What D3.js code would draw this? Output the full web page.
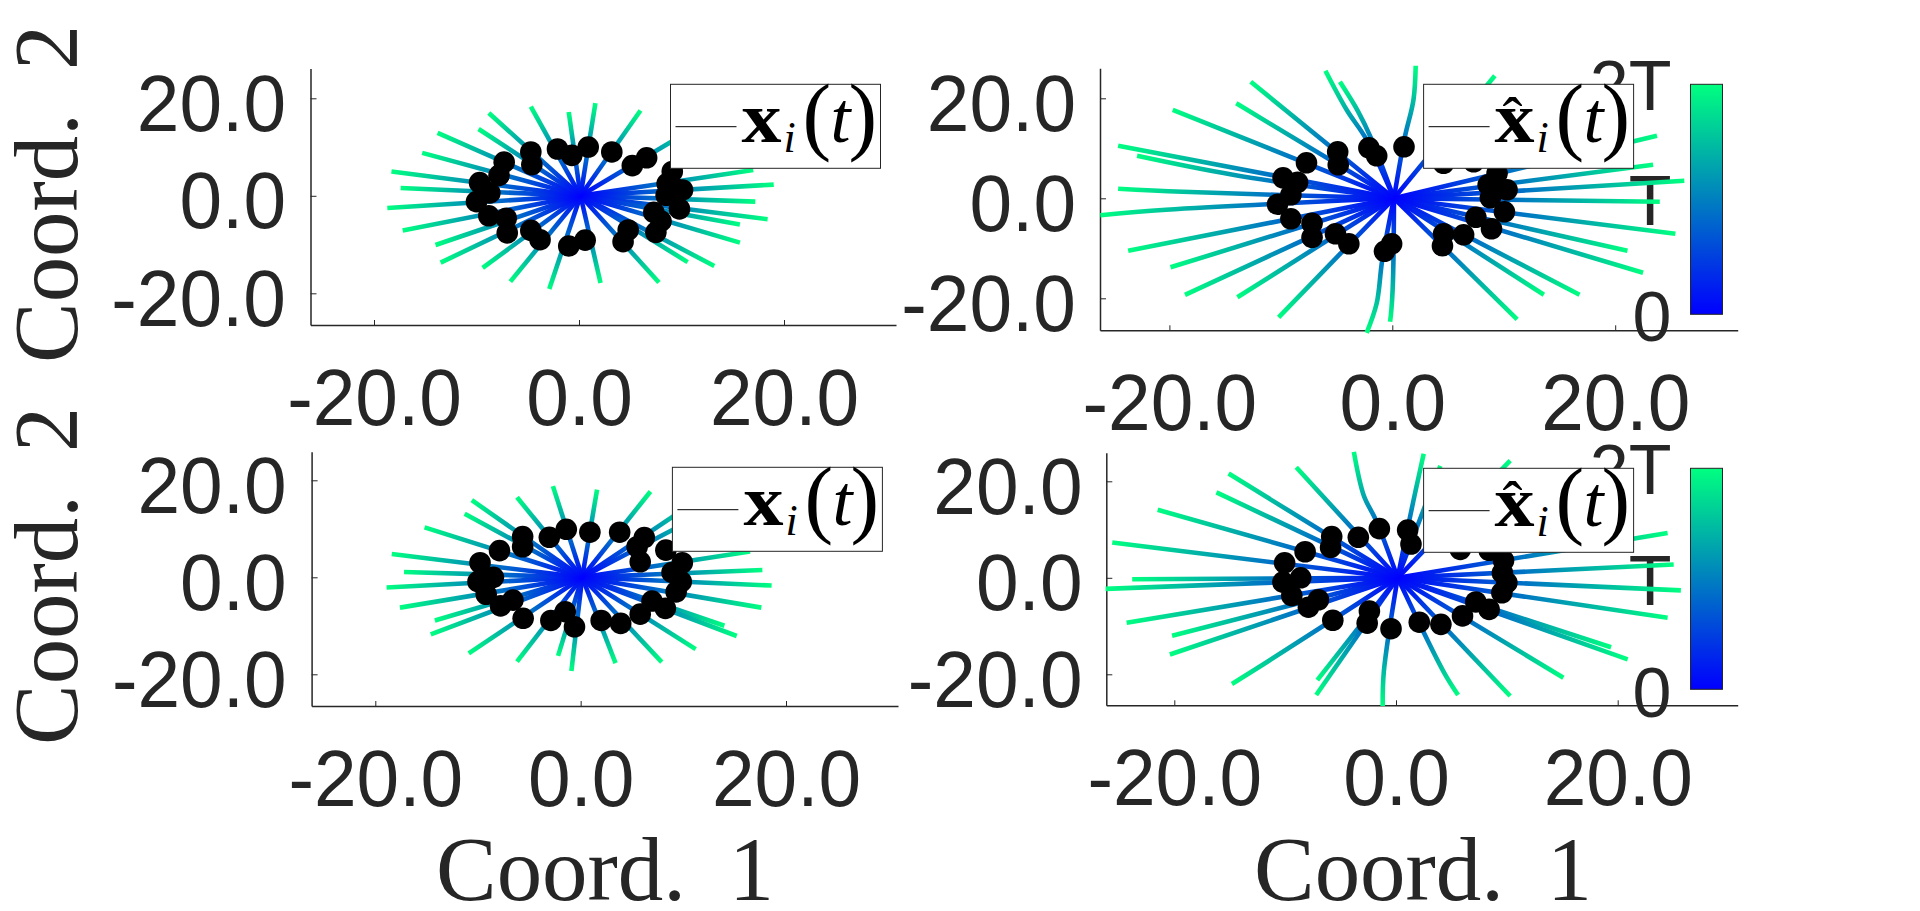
<!DOCTYPE html>
<html>
<head>
<meta charset="utf-8">
<script src="https://cdn.jsdelivr.net/npm/d3@7"></script>
<style>
  html, body { margin: 0; background: #fff; }
  svg { display: block; }
  .tick-label { font-family: "Liberation Sans", sans-serif; font-size: 79px; fill: #262626; }
  .cbar-label { font-family: "Liberation Sans", sans-serif; font-size: 70px; fill: #262626; text-anchor: end; }
  .axis-title { font-family: "Liberation Serif", serif; font-size: 90px; fill: #262626; }
  .legend-text { font-family: "Liberation Serif", serif; fill: #000; }
</style>
</head>
<body>
<div id="chart"></div>
<script>
const tickValues = [-20, 0, 20];
const tickLabels = ["-20.0", "0.0", "20.0"];
const colorbarLabels = ["0", "T", "2T"];
const titleWord = "Coord.";
const xTitleNumber = "1";
const yTitleNumber = "2";

// trajectories start near the origin, then bends (if any) and the end point
const rayOrigin = [0.15, 0];

const trueTopLines = [
  [[1.6, 19.0]], [[6.0, 17.5]], [[12.2, 15.1]], [[17.0, 5.3]], [[19.0, 2.3]], [[17.2, -1.2]],
  [[18.4, -4.8]], [[15.7, -5.9]], [[15.7, -9.6]], [[13.2, -14.4]], [[10.6, -13.6]], [[7.8, -17.8]],
  [[2.1, -17.9]], [[-2.9, -19.1]], [[-6.7, -17.6]], [[-9.4, -14.8]], [[-13.5, -13.7]], [[-14.0, -10.1]],
  [[-17.2, -7.1]], [[-18.7, -2.5]], [[-17.4, 1.6]], [[-18.3, 5.0]], [[-15.3, 8.8]], [[-13.8, 12.9]],
  [[-9.8, 13.7]], [[-8.8, 17.0]], [[-4.7, 18.3]], [[-1.0, 17.2]],
];
const trueTopDots = [
  [-2.1, 9.6], [-0.7, 8.3], [0.9, 10.0], [3.2, 9.0], [5.2, 6.2], [6.6, 7.8], [9.1, 5.0], [8.6, 2.5],
  [9.2, 1.8], [10.1, 1.2], [8.5, 0.1], [9.8, -2.7], [7.3, -3.4], [8.0, -5.2], [7.5, -7.5], [4.8, -7.0],
  [4.3, -9.4], [0.6, -9.1], [-1.0, -10.3], [-3.8, -9.0], [-4.7, -7.1], [-7.0, -7.6], [-7.1, -4.6],
  [-8.8, -4.1], [-10.0, -1.2], [-8.7, 0.6], [-9.7, 2.7], [-7.8, 4.2], [-7.3, 6.9], [-4.6, 6.4], [-4.7, 9.0],
];

const hatTopLines = [
  [[1.1, 12.0], [1.9, 19.7], [2.1, 26.5]], [[9.2, 24.5]], [[23.75, 12.5]], [[23.4, 6.7]], [[26.2, 3.5]],
  [[24.0, -0.7]], [[25.4, -7.1]], [[21.1, -10.5]], [[22.5, -14.9]], [[16.8, -19.3]], [[13.6, -19.3]],
  [[11.2, -24.2]], [[0.03, -18.3], [-0.2, -24.7]], [[-0.9, -12.3], [-1.4, -21.0], [-2.3, -26.9]],
  [[-10.2, -23.8]], [[-13.9, -19.8]], [[-18.6, -19.3]], [[-19.9, -13.8]], [[-23.7, -10.5]],
  [[-20.3, -2.3], [-26.2, -3.4]], [[-18.8, 1.3], [-24.6, 1.9]], [[-14.3, 4.7], [-22.9, 8.5]],
  [[-24.6, 10.5]], [[-19.7, 17.7]], [[-14.0, 19.0]], [[-12.7, 23.3]],
  [[-2.3, 11.7], [-4.1, 17.7], [-6.0, 25.5]], [[-1.9, 12.0], [-3.05, 17.3], [-4.7, 23.3]],
];
const hatTopDots = [
  [1.05, 10.3], [-2.1, 10.1], [-1.4, 8.5], [-4.9, 9.3], [-4.85, 6.7], [-7.7, 7.1], [-9.8, 4.1], [-8.5, 3.2],
  [-9.1, 0.7], [-10.3, -1.2], [-9.1, -4.1], [-7.2, -5.0], [-7.2, -7.8], [-5.1, -7.1], [-3.9, -9.1],
  [-0.06, -9.1], [-0.7, -10.6], [4.6, -7.1], [4.5, -9.5], [6.4, -7.3], [7.5, -3.8], [8.9, -6.1],
  [10.06, -2.7], [8.8, 0.1], [10.3, 1.7], [8.6, 2.7], [9.4, 5.0], [4.6, 7.0], [7.3, 7.3],
];

const trueBottomLines = [
  [[1.6, 18.1]], [[6.8, 17.7]], [[12.0, 16.8]], [[13.3, 14.6]], [[16.5, 5.3]], [[17.7, 1.5]], [[18.6, -1.7]],
  [[17.6, -6.25]], [[14.0, -10.0]], [[15.2, -12.1]], [[11.2, -14.8]], [[7.9, -17.5]], [[3.4, -17.7]],
  [[-0.9, -19.3]], [[-2.2, -16.2]], [[-6.2, -17.4]], [[-10.9, -15.7]], [[-14.6, -11.75]], [[-14.2, -8.9]],
  [[-17.6, -6.25]], [[-18.9, -2.1]], [[-17.2, 1.1]], [[-18.4, 4.8]], [[-15.2, 10.3]], [[-11.3, 13.1]],
  [[-10.6, 15.9]], [[-6.2, 16.5]], [[-2.7, 18.8]],
];
const trueBottomDots = [
  [-1.4, 9.9], [-3.05, 8.25], [0.9, 9.3], [3.8, 9.3], [6.2, 8.2], [5.5, 6.3], [5.8, 3.2], [8.3, 5.6],
  [9.9, 3.0], [8.9, 1.0], [9.8, -0.9], [9.3, -3.0], [8.25, -6.4], [6.95, -4.9], [5.8, -7.6], [3.9, -9.5],
  [2.0, -8.9], [-0.6, -10.2], [-1.5, -7.1], [-2.9, -8.9], [-5.6, -8.45], [-6.6, -4.7], [-7.8, -5.9],
  [-9.2, -3.5], [-10.0, -0.9], [-8.5, 0], [-9.8, 3.0], [-7.9, 5.5], [-5.65, 6.3], [-5.65, 8.4],
];

const hatBottomLines = [
  [[1.2, 11.9], [1.8, 18.4], [2.5, 25.7]], [[4.0, 23.2]], [[10.3, 24.3]], [[24.5, 9.3]], [[25.05, 2.75]],
  [[25.7, -2.6]], [[24.5, -8.3]], [[19.4, -14.4]], [[20.9, -16.9]], [[15.1, -20.7]], [[10.3, -24.5]],
  [[4.3, -19.5], [5.6, -24.3]], [[-1.1, -19.5], [-1.2, -26.55]], [[-7.1, -21.2]], [[-7.2, -24.3]],
  [[-11.6, -17.4], [-14.8, -22.0]], [[-20.4, -15.9]], [[-20.2, -12.0]], [[-24.3, -9.3]], [[-26.2, -2.3]],
  [[-23.8, -0.3]], [[-25.6, 7.3]], [[-21.5, 14.1]], [[-16.2, 17.7]], [[-15.1, 21.6]], [[-9.0, 22.9]],
  [[-1.8, 11.9], [-2.9, 17.0], [-3.8, 26.1]],
];
const hatBottomDots = [
  [1.05, 9.9], [1.35, 7.0], [-1.5, 10.2], [-3.4, 8.4], [-5.8, 8.55], [-5.9, 6.3], [-8.2, 5.4], [-10.05, 3.1],
  [-8.6, 0], [-10.2, -0.9], [-9.4, -3.7], [-7.0, -4.55], [-7.9, -6.1], [-5.7, -8.8], [-2.4, -6.9],
  [-2.6, -9.4], [-0.45, -10.55], [2.1, -9.2], [4.05, -9.65], [6.0, -7.9], [7.2, -5.0], [8.4, -6.55],
  [9.55, -3.1], [10.0, -1.0], [9.6, 1.0], [9.7, 3.6], [5.8, 5.9], [8.4, 5.7],
];

const width = 1920;
const height = 911;
const textColor = "#262626";
const timeColor = d3.scaleLinear().domain([0, 1]).range(["#0000ff", "#00ff80"]);

const svg = d3.select("#chart").append("svg")
  .attr("width", width)
  .attr("height", height)
  .attr("viewBox", [0, 0, width, height]);
const defs = svg.append("defs");

let gradientId = 0;

function panel({ lines, dots, left, right, top, bottom, xPx, yPx, xBase, yRight, hat, legendX, legendY }) {
  const x = d3.scaleLinear().domain([-20, 20]).range(xPx);
  const y = d3.scaleLinear().domain([-20, 20]).range(yPx);
  const g = svg.append("g");

  // the axes stop at the box edges, not at the outer ticks
  const xAxisScale = x.copy().domain([x.invert(left), x.invert(right)]).range([left, right]);
  const yAxisScale = y.copy().domain([y.invert(bottom), y.invert(top)]).range([bottom, top]);

  const xAxisG = g.append("g")
    .attr("transform", `translate(0,${bottom})`)
    .call(d3.axisBottom(xAxisScale).tickValues(tickValues).tickSize(-5).tickSizeOuter(0)
      .tickFormat((d) => tickLabels[tickValues.indexOf(d)]));
  const yAxisG = g.append("g")
    .attr("transform", `translate(${left},0)`)
    .call(d3.axisLeft(yAxisScale).tickValues(tickValues).tickSize(-6).tickSizeOuter(0)
      .tickFormat((d) => tickLabels[tickValues.indexOf(d)]));

  [xAxisG, yAxisG].forEach((a) => {
    a.select(".domain").attr("stroke", textColor).attr("stroke-width", 1.5);
    a.selectAll("line").attr("stroke", textColor).attr("stroke-width", 1);
    a.attr("font-family", null).attr("font-size", null);
    a.selectAll("text")
      .attr("class", "tick-label")
      .attr("fill", null)
      .attr("lengthAdjust", "spacingAndGlyphs")
      .attr("textLength", function () { return this.getComputedTextLength() * 0.97; });
  });
  xAxisG.selectAll("text").attr("dy", null).attr("y", xBase - bottom);
  yAxisG.selectAll("text").attr("dy", "0.36em").attr("y", 3.7).attr("x", yRight - left);

  const line = d3.line().x((d) => x(d[0])).y((d) => y(d[1])).curve(d3.curveCatmullRom);

  lines.forEach((pts) => {
    const path = [rayOrigin, ...pts];
    const end = path[path.length - 1];
    const id = `time-${gradientId++}`;
    const grad = defs.append("linearGradient")
      .attr("id", id)
      .attr("gradientUnits", "userSpaceOnUse")
      .attr("x1", x(rayOrigin[0])).attr("y1", y(rayOrigin[1]))
      .attr("x2", x(end[0])).attr("y2", y(end[1]));
    grad.selectAll("stop").data([0, 1]).join("stop")
      .attr("offset", (d) => d)
      .attr("stop-color", (d) => timeColor(d));
    g.append("path")
      .attr("d", line(path))
      .attr("fill", "none")
      .attr("stroke", `url(#${id})`)
      .attr("stroke-width", 4.6);
  });

  g.selectAll("circle").data(dots).join("circle")
    .attr("cx", (d) => x(d[0]))
    .attr("cy", (d) => y(d[1]))
    .attr("r", 10.8)
    .attr("fill", "#000");

  return { hat, legendX, legendY };
}

function legend({ hat, legendX, legendY }) {
  const g = svg.append("g").attr("transform", `translate(${legendX},${legendY})`);
  g.append("rect")
    .attr("width", 210).attr("height", 84)
    .attr("fill", "#fff").attr("stroke", textColor).attr("stroke-width", 1);
  g.append("line")
    .attr("x1", 5).attr("x2", 66).attr("y1", 42.4).attr("y2", 42.4)
    .attr("stroke", "#000").attr("stroke-width", 1);
  const t = g.append("text").attr("class", "legend-text").attr("y", 57.4);
  t.append("tspan").attr("x", 71).attr("font-size", 72).attr("font-weight", "bold")
    .attr("textLength", 40).attr("lengthAdjust", "spacingAndGlyphs")
    .text("x");
  t.append("tspan").attr("x", 113).attr("y", 67.4).attr("font-size", 44).attr("font-style", "italic").text("i");
  t.append("tspan").attr("x", 132).attr("y", 60).attr("font-size", 86).text("(");
  t.append("tspan").attr("x", 160).attr("y", 57.4).attr("font-size", 72).attr("font-style", "italic").text("t");
  t.append("tspan").attr("x", 178).attr("y", 60).attr("font-size", 86).text(")");
  if (hat) {
    g.append("text")
      .attr("class", "legend-text")
      .attr("x", 89)
      .attr("y", 53.7)
      .attr("font-size", 60)
      .attr("text-anchor", "middle")
      .text("\u02c6");
  }
}

function colorbar({ top, bottom, labelBase }) {
  const id = `bar-${gradientId++}`;
  const grad = defs.append("linearGradient")
    .attr("id", id).attr("x1", 0).attr("x2", 0).attr("y1", 1).attr("y2", 0);
  grad.selectAll("stop").data([0, 1]).join("stop")
    .attr("offset", (d) => d)
    .attr("stop-color", (d) => timeColor(d));
  const g = svg.append("g");
  g.append("rect")
    .attr("x", 1690.5).attr("y", top)
    .attr("width", 32).attr("height", bottom - top)
    .attr("fill", `url(#${id})`).attr("stroke", textColor).attr("stroke-width", 1);
  g.selectAll("text").data(colorbarLabels).join("text")
    .attr("class", "cbar-label")
    .attr("x", 1671.5)
    .attr("y", (_, i) => labelBase[i])
    .text((d) => d);
}

// colorbar labels sit behind the legend boxes and the right-hand panels
colorbar({ top: 84.3, bottom: 314.3, labelBase: [341, 225, 110] });
colorbar({ top: 468.3, bottom: 689.3, labelBase: [716.5, 605, 494] });

const panels = [
  panel({ lines: trueTopLines, dots: trueTopDots, left: 310.5, right: 896, top: 68.5, bottom: 325,
    xPx: [374, 784], yPx: [293.3, 98.3], xBase: 425, yRight: 286, hat: false, legendX: 670.5, legendY: 84.3 }),
  panel({ lines: hatTopLines, dots: hatTopDots, left: 1100, right: 1737.7, top: 68.3, bottom: 330.3,
    xPx: [1169.4, 1615.2], yPx: [298.3, 98.3], xBase: 430, yRight: 1076, hat: true, legendX: 1423.6, legendY: 84.3 }),
  panel({ lines: trueBottomLines, dots: trueBottomDots, left: 311.6, right: 898, top: 451.7, bottom: 706,
    xPx: [375.3, 786], yPx: [674.3, 480.3], xBase: 806, yRight: 286.6, hat: false, legendX: 672.4, legendY: 467.3 }),
  panel({ lines: hatBottomLines, dots: hatBottomDots, left: 1106.3, right: 1737.7, top: 452.7, bottom: 705.3,
    xPx: [1174.3, 1617.7], yPx: [674.3, 481.3], xBase: 805, yRight: 1082.5, hat: true, legendX: 1423.6, legendY: 468.3 }),
];
panels.forEach(legend);

// axis titles: the word and the number are set apart like the reference
function title(transform, number) {
  const t = svg.append("text")
    .attr("class", "axis-title")
    .attr("transform", transform);
  t.append("tspan")
    .attr("x", 0)
    .attr("textLength", 250)
    .attr("lengthAdjust", "spacingAndGlyphs")
    .text(titleWord);
  t.append("tspan").attr("x", 293).text(number);
}

[[76.5, 363], [76.5, 745]].forEach(([tx, ty]) => {
  title(`translate(${tx},${ty}) rotate(-90)`, yTitleNumber);
});
[[436, 900], [1254, 900]].forEach(([tx, ty]) => {
  title(`translate(${tx},${ty})`, xTitleNumber);
});
</script>
</body>
</html>
